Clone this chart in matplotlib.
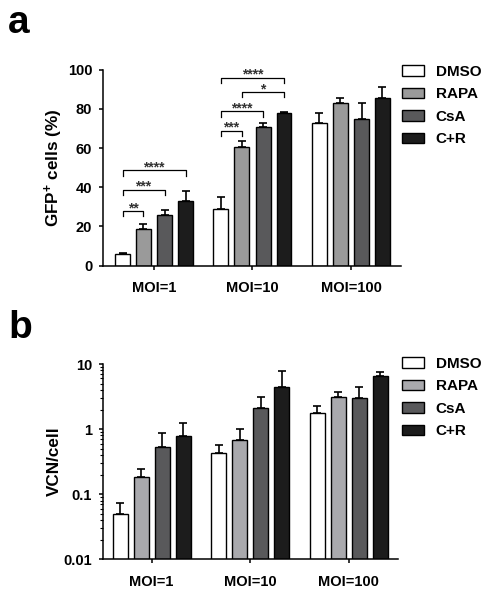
import matplotlib
matplotlib.use("Agg")
import matplotlib.pyplot as plt
from matplotlib.patches import Patch
import numpy as np

plt.rcParams['font.family'] = ['Liberation Sans', 'DejaVu Sans']
plt.rcParams['font.weight'] = 'bold'
plt.rcParams['mathtext.fontset'] = 'custom'
plt.rcParams['mathtext.rm'] = 'Liberation Sans:bold'
plt.rcParams['mathtext.bf'] = 'Liberation Sans:bold'
plt.rcParams['mathtext.default'] = 'bf'

# ---- data ----
groups = ['MOI=1', 'MOI=10', 'MOI=100']
treatments = ['DMSO', 'RAPA', 'CsA', 'C+R']

gfp_mean = {
    'DMSO': [5.9, 28.8, 72.8],
    'RAPA': [18.6, 60.8, 83.2],
    'CsA':  [26.1, 70.6, 74.8],
    'C+R':  [33.0, 78.0, 85.8],
}
gfp_err = {
    'DMSO': [0.8, 6.2, 5.1],
    'RAPA': [2.6, 2.7, 2.6],
    'CsA':  [2.2, 2.2, 8.2],
    'C+R':  [5.0, 0.4, 5.6],
}
vcn_mean = {
    'DMSO': [0.050, 0.437, 1.75],
    'RAPA': [0.187, 0.686, 3.08],
    'CsA':  [0.527, 2.12, 2.97],
    'C+R':  [0.79, 4.5, 6.6],
}
vcn_err_top = {
    'DMSO': [0.073, 0.574, 2.26],
    'RAPA': [0.243, 0.995, 3.67],
    'CsA':  [0.865, 3.16, 4.39],
    'C+R':  [1.22, 7.7, 7.6],
}

# significance brackets: (group index, treatment i, treatment j, height, label)
sig_brackets = [
    (0, 0, 1, 27.8, '**'),
    (0, 0, 2, 38.8, '***'),
    (0, 0, 3, 48.6, '****'),
    (1, 0, 1, 68.9, '***'),
    (1, 0, 2, 78.7, '****'),
    (1, 1, 3, 88.7, '*'),
    (1, 0, 3, 96.0, '****'),
]

colors_a = ['#ffffff', '#9a9a9a', '#59595b', '#1c1c1c']
colors_b = ['#ffffff', '#a9a9ad', '#59595b', '#1c1c1c']

offsets = np.array([-0.32, -0.107, 0.107, 0.32])
bar_w = 0.152

W, H = 497, 600
fig = plt.figure(figsize=(W / 100, H / 100), dpi=100)

ax_a = fig.add_axes([103.3 / W, 1 - 265.7 / H, (401 - 103.3) / W, (265.7 - 69.7) / H])
ax_b = fig.add_axes([103.3 / W, 1 - 559.3 / H, (398 - 103.3) / W, (559.3 - 364) / H])

x = np.arange(len(groups))


def style(ax):
    for s in ['top', 'right']:
        ax.spines[s].set_visible(False)
    for s in ['left', 'bottom']:
        ax.spines[s].set_linewidth(1.1)
    ax.tick_params(axis='both', which='major', length=3, width=1.1, labelsize=10.5)
    ax.tick_params(axis='y', pad=5)
    ax.tick_params(axis='x', pad=8)
    ax.set_xticks(x)
    ax.set_xticklabels(groups, fontweight='bold')
    for lab in ax.get_yticklabels():
        lab.set_fontweight('bold')


# ---- panel a ----
for i, t in enumerate(treatments):
    ax_a.bar(x + offsets[i], gfp_mean[t], width=bar_w, color=colors_a[i],
             edgecolor='black', linewidth=1.0, zorder=2)
    ax_a.errorbar(x + offsets[i], gfp_mean[t], yerr=[np.zeros(3), gfp_err[t]],
                  fmt='none', ecolor='black', elinewidth=1.2, capsize=3,
                  capthick=1.2, zorder=1)
ax_a.set_xlim(-0.515, 2.508)
ax_a.set_ylim(0, 100)
ax_a.set_yticks([0, 20, 40, 60, 80, 100])
ax_a.set_ylabel(r'GFP$^{+}$ cells (%)', fontsize=12.3, fontweight='bold', labelpad=2)
style(ax_a)

for g, i, j, h, lab in sig_brackets:
    x1 = x[g] + offsets[i]
    x2 = x[g] + offsets[j]
    ax_a.plot([x1, x1, x2, x2], [h - 2.6, h, h, h - 2.6], color='black', lw=0.9,
              clip_on=False, zorder=3)
    ax_a.text((x1 + x2) / 2, h - 0.6, lab, ha='center', va='baseline',
              fontsize=10, fontweight='bold', color='#333333')

ax_a.legend(handles=[Patch(facecolor=c, edgecolor='black', linewidth=1.0) for c in colors_a],
            labels=treatments, loc='upper left',
            bbox_to_anchor=(402 / W, 1 - 65 / H), bbox_transform=fig.transFigure,
            frameon=False, handlelength=1.45, handleheight=0.68,
            handletextpad=0.75, labelspacing=0.55, borderpad=0, borderaxespad=0,
            prop={'weight': 'bold', 'size': 11})

# ---- panel b ----
for i, t in enumerate(treatments):
    m = np.array(vcn_mean[t])
    e = np.array(vcn_err_top[t]) - m
    ax_b.bar(x + offsets[i], m, width=bar_w, color=colors_b[i],
             edgecolor='black', linewidth=1.0, zorder=2)
    ax_b.errorbar(x + offsets[i], m, yerr=[np.zeros(3), e],
                  fmt='none', ecolor='black', elinewidth=1.2, capsize=3,
                  capthick=1.2, zorder=1)
ax_b.set_yscale('log')
ax_b.set_xlim(-0.49, 2.50)
ax_b.set_ylim(0.01, 10)
ax_b.set_yticks([0.01, 0.1, 1, 10])
ax_b.set_yticklabels(['0.01', '0.1', '1', '10'])
ax_b.tick_params(axis='y', which='minor', length=2, width=0.8)
ax_b.set_ylabel('VCN/cell', fontsize=12.3, fontweight='bold', labelpad=1)
style(ax_b)

ax_b.legend(handles=[Patch(facecolor=c, edgecolor='black', linewidth=1.0) for c in colors_b],
            labels=treatments, loc='upper left',
            bbox_to_anchor=(402 / W, 1 - 357 / H), bbox_transform=fig.transFigure,
            frameon=False, handlelength=1.45, handleheight=0.68,
            handletextpad=0.75, labelspacing=0.55, borderpad=0, borderaxespad=0,
            prop={'weight': 'bold', 'size': 11})

fig.text(8 / W, 1 - 33 / H, 'a', fontsize=28, fontweight='bold', va='baseline')
fig.text(8 / W, 1 - 338 / H, 'b', fontsize=28, fontweight='bold', va='baseline')

fig.savefig('out.png', dpi=100)
